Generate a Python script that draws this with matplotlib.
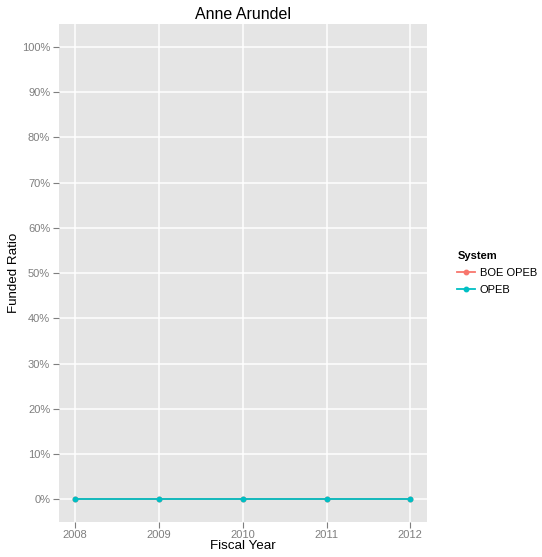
import numpy as np
import matplotlib
matplotlib.use('Agg')
import matplotlib.pyplot as plt
from matplotlib.ticker import FuncFormatter, MultipleLocator
from matplotlib.lines import Line2D

# data
years = [2008, 2009, 2010, 2011, 2012]
boe_opeb = [0.0, 0.0, 0.0, 0.0, 0.0]
opeb = [0.0, 0.0, 0.0, 0.0, 0.0]
series_names = ['BOE OPEB', 'OPEB']
series_colors = ['#F8766D', '#00BFC4']

plt.rcParams['font.family'] = ['Liberation Sans', 'DejaVu Sans']

fig = plt.figure(figsize=(5.42, 5.57), dpi=100)
ax = fig.add_axes([0.108, 0.0628, 0.680, 0.894])
ax.set_facecolor('#E5E5E5')

for vals, name, col in zip([boe_opeb, opeb], series_names, series_colors):
    ax.plot(years, vals, color=col, lw=1.3, marker='o', ms=3.2, label=name, zorder=3)

ax.set_xlim(2008 - 0.2, 2012 + 0.2)
ax.set_ylim(-0.05, 1.05)
ax.xaxis.set_major_locator(MultipleLocator(1))
ax.yaxis.set_major_locator(MultipleLocator(0.1))
ax.yaxis.set_major_formatter(FuncFormatter(lambda v, p: '%d%%' % round(v * 100)))

ax.grid(True, color='white', lw=1.1)
ax.set_axisbelow(True)
for s in ax.spines.values():
    s.set_visible(False)
ax.tick_params(colors='#7F7F7F', labelsize=8, length=4, width=0.8, pad=2)

ax.set_title('Anne Arundel', fontsize=11.5, pad=4)
ax.set_xlabel('Fiscal Year', fontsize=9.6, labelpad=0)
ax.set_ylabel('Funded Ratio', fontsize=9.6, labelpad=1)

handles = [Line2D([], [], color=c, lw=1.3, marker='o', ms=3.2) for c in series_colors]
leg = ax.legend(handles, series_names, title='System', loc='center left',
                bbox_to_anchor=(1.07, 0.5), frameon=False, fontsize=8,
                title_fontsize=8, handlelength=1.6, handletextpad=0.4,
                labelspacing=0.6, borderaxespad=0)
leg.get_title().set_fontweight('bold')
leg._legend_box.align = 'left'

fig.savefig('out.png', dpi=100)
